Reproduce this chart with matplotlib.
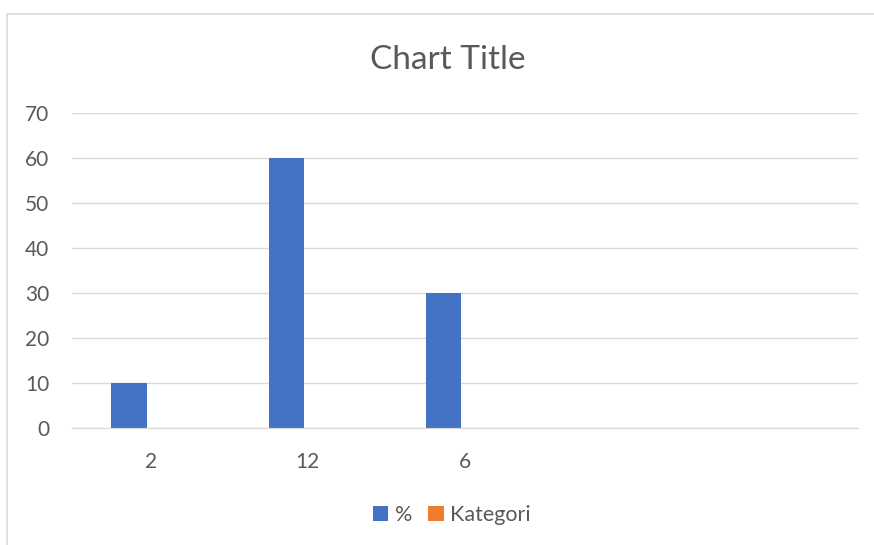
import matplotlib.pyplot as plt
import numpy as np
from matplotlib.patches import Rectangle

categories = ["2", "12", "6", "", ""]
persen = [10, 60, 30, np.nan, np.nan]
kategori = [0, 0, 0, np.nan, np.nan]

plt.rcParams['font.family'] = ['Lato', 'DejaVu Sans']

fig = plt.figure(figsize=(8.74, 5.45), dpi=100)
ax = fig.add_axes([72/874, 1-428/545, 786/874, 315/545])

x = np.arange(len(categories))
w = 0.225
off = 0.025
ax.bar(x - w/2 - off, persen, w, color='#4472C4', label='%')
ax.bar(x + w/2 - off, kategori, w, color='#ED7D31', label='Kategori')

ax.set_xlim(-0.5, len(categories) - 0.5)
ax.set_ylim(0, 70)
ax.set_yticks(range(0, 71, 10))
ax.set_xticks(x)
ax.set_xticklabels(categories)
ax.yaxis.grid(True, color='#d9d9d9', linewidth=1)
ax.set_axisbelow(True)
for s in ax.spines.values():
    s.set_visible(False)
ax.spines['bottom'].set_visible(True)
ax.spines['bottom'].set_color('#d9d9d9')
ax.tick_params(length=0, labelsize=15, colors='#595959')
ax.tick_params(axis='y', pad=16.5)
ax.tick_params(axis='x', pad=17)

fig.text(448/874, 1-60/545, "Chart Title", ha='center', va='center',
         fontsize=24, color='#595959')

fig.legend(loc='center', bbox_to_anchor=(452/874, 1-515/545), ncol=2, frameon=False,
           fontsize=15.5, labelcolor='#595959', handlelength=0.7, handleheight=0.7,
           handletextpad=0.3, columnspacing=0.75)

# chart border
fig.patches.append(Rectangle((7/874, -0.1), 1.0, 1 - 14/545 + 0.1, transform=fig.transFigure,
                             fill=False, edgecolor='#d9d9d9', linewidth=1.2))

fig.savefig("out.png", dpi=100)
